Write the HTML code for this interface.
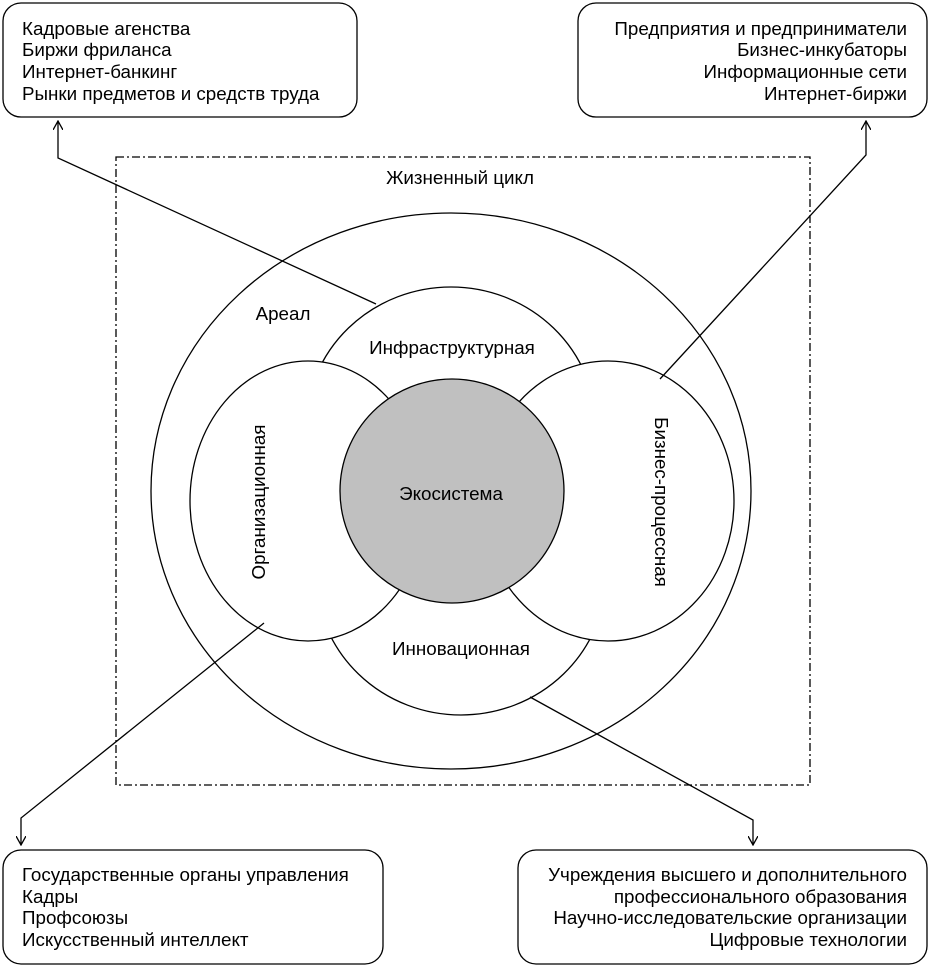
<!DOCTYPE html>
<html><head><meta charset="utf-8"><style>
html,body{margin:0;padding:0;background:#fff;}
svg text{font-family:"Liberation Sans",sans-serif;fill:#000;}
</style></head><body>
<svg width="930" height="967" viewBox="0 0 930 967" xmlns="http://www.w3.org/2000/svg">
<defs><marker id="a" markerWidth="10" markerHeight="10" refX="9" refY="5" orient="auto" markerUnits="userSpaceOnUse"><path d="M0,0 L9,5 L0,10" fill="none" stroke="#000" stroke-width="1.3"/></marker></defs>
<g fill="none" stroke="#000" stroke-width="1.3">
<rect x="3" y="3" width="354" height="114" rx="18"/>
<rect x="578" y="3" width="349" height="114" rx="18"/>
<rect x="3" y="850" width="380" height="114" rx="18"/>
<rect x="518" y="850" width="409" height="114" rx="18"/>
<rect x="116" y="157" width="694" height="628" stroke-dasharray="8,3,2,3"/>
</g>
<g stroke="#000" stroke-width="1.3">
<ellipse cx="451" cy="491" rx="300" ry="278" fill="#fff"/>
<ellipse cx="451" cy="427" rx="145" ry="140" fill="#fff"/>
<ellipse cx="461" cy="575" rx="145" ry="140" fill="#fff"/>
<ellipse cx="308" cy="501" rx="118" ry="140" fill="#fff"/>
<ellipse cx="608" cy="501" rx="126" ry="140" fill="#fff"/>
<circle cx="452" cy="491" r="112" fill="#c0c0c0"/>
</g>
<g fill="none" stroke="#000" stroke-width="1.3">
<polyline points="376,304 58,158 58,121" marker-end="url(#a)"/>
<polyline points="660,379 866,155 866,121" marker-end="url(#a)"/>
<polyline points="264,623 21,818 21,845" marker-end="url(#a)"/>
<polyline points="530,697 753,820 753,845" marker-end="url(#a)"/>
</g>
<g font-size="18.8">
<text x="22" y="35">Кадровые агенства</text>
<text x="22" y="56">Биржи фриланса</text>
<text x="22" y="78">Интернет-банкинг</text>
<text x="22" y="100">Рынки предметов и средств труда</text>
<g text-anchor="end">
<text x="907" y="35">Предприятия и предприниматели</text>
<text x="907" y="56">Бизнес-инкубаторы</text>
<text x="907" y="78">Информационные сети</text>
<text x="907" y="100">Интернет-биржи</text>
<text x="907" y="881">Учреждения высшего и дополнительного</text>
<text x="907" y="903">профессионального образования</text>
<text x="907" y="924">Научно-исследовательские организации</text>
<text x="907" y="946">Цифровые технологии</text>
</g>
<text x="22" y="881">Государственные органы управления</text>
<text x="22" y="903">Кадры</text>
<text x="22" y="924">Профсоюзы</text>
<text x="22" y="946">Искусственный интеллект</text>
<g text-anchor="middle">
<text x="460" y="184">Жизненный цикл</text>
<text x="283" y="320">Ареал</text>
<text x="452" y="354">Инфраструктурная</text>
<text x="451" y="500">Экосистема</text>
<text x="461" y="655">Инновационная</text>
<text transform="translate(265,502) rotate(-90)">Организационная</text>
<text transform="translate(655,502) rotate(90)">Бизнес-процессная</text>
</g>
</g>
</svg>
</body></html>
